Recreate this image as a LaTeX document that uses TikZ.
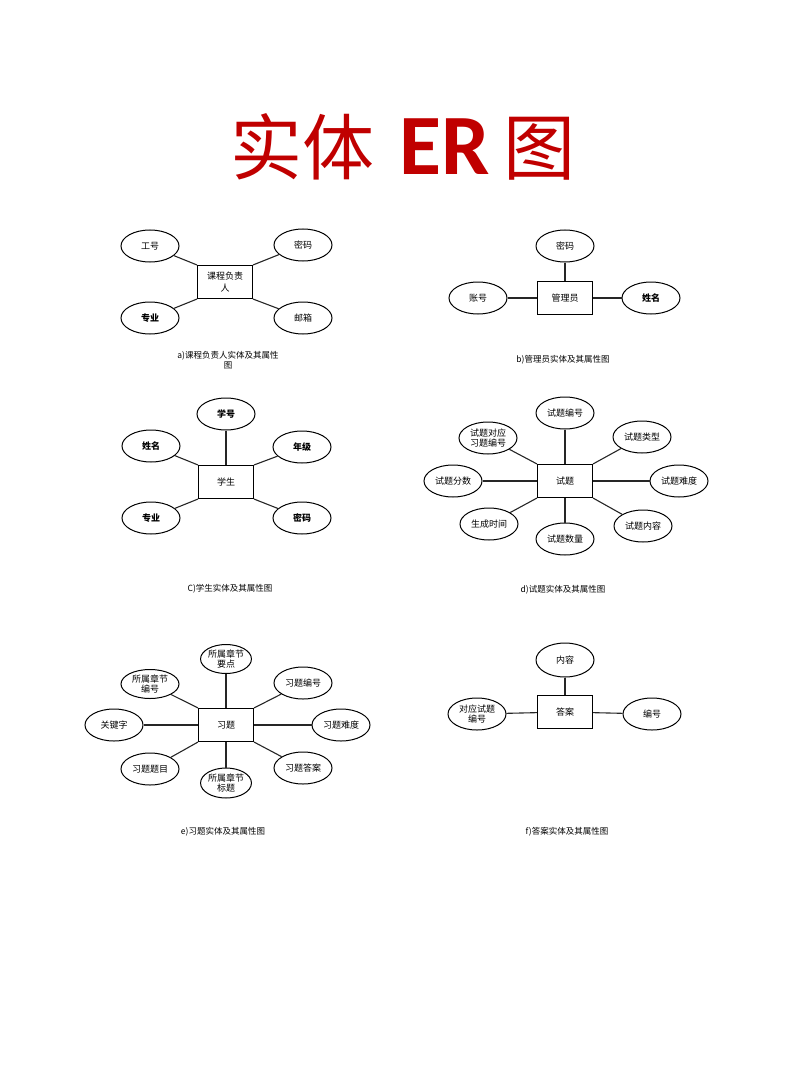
\documentclass[tikz,border=0pt]{standalone}
\usepackage{fontspec}
\newfontfamily\cjk{Noto Sans CJK SC}
\newfontfamily\titlelatin{Carlito}
\usetikzlibrary{shapes.geometric}
\definecolor{titlered}{RGB}{192,0,0}
\tikzset{
	attr/.style={draw, ellipse, line width=1pt, minimum width=58pt, minimum height=32pt,
		inner sep=0pt, align=center, font=\cjk\fontsize{9}{10}\selectfont},
	entity/.style={draw, rectangle, line width=1.1pt, minimum width=55pt, minimum height=33pt,
		inner sep=1pt, align=center, font=\cjk\fontsize{9}{12}\selectfont},
	caption/.style={align=center, font=\cjk\fontsize{8.5}{10}\selectfont},
	link/.style={line width=1.1pt, black!85},
}

\begin{document}
\begin{tikzpicture}[x=1pt, y=-1pt]
	\useasboundingbox (0,0) rectangle (800,1067);
	\node [anchor=base west, inner sep=0pt, text=titlered] (title) at (230,175)
		{\cjk\fontsize{72}{76}\selectfont 实体\hspace{25pt}{\titlelatin\bfseries\fontsize{86}{90}\selectfont ER}\hspace{14pt}图};

	% a) course leader
	\node [entity] (lead) at (225,282) {课程负责\\人};
	\node [attr] (gonghao) at (150,246) {工号};
	\node [attr] (mimaA) at (303,245) {密码};
	\node [attr, font=\cjk\bfseries\fontsize{9}{10}\selectfont] (zhuanyeA) at (150,318) {专业};
	\node [attr] (youxiang) at (303,318) {邮箱};
	\draw [link] (gonghao) to (lead.north west);
	\draw [link] (mimaA) to (lead.north east);
	\draw [link] (zhuanyeA) to (lead.south west);
	\draw [link] (youxiang) to (lead.south east);
	\node [caption] (capA) at (228,360) {a)课程负责人实体及其属性\\图};

	% b) administrator
	\node [entity] (admin) at (565,298) {管理员};
	\node [attr] (mimaB) at (565,246) {密码};
	\node [attr] (zhanghao) at (478,298) {账号};
	\node [attr, font=\cjk\bfseries\fontsize{9}{10}\selectfont] (xingmingB) at (651,298) {姓名};
	\draw [link] (mimaB) to (admin);
	\draw [link] (zhanghao) to (admin);
	\draw [link] (admin) to (xingmingB);
	\node [caption] (capB) at (563,360) {b)管理员实体及其属性图};

	% c) student
	\node [entity] (student) at (226,482) {学生};
	\node [attr, font=\cjk\bfseries\fontsize{9}{10}\selectfont] (xuehao) at (226,414) {学号};
	\node [attr, font=\cjk\bfseries\fontsize{9}{10}\selectfont] (xingmingC) at (151,446) {姓名};
	\node [attr, font=\cjk\bfseries\fontsize{9}{10}\selectfont] (nianji) at (302,447) {年级};
	\node [attr, font=\cjk\bfseries\fontsize{9}{10}\selectfont] (zhuanyeC) at (151,518) {专业};
	\node [attr, font=\cjk\bfseries\fontsize{9}{10}\selectfont] (mimaC) at (302,518) {密码};
	\draw [link] (xuehao) to (student);
	\draw [link] (xingmingC) to (student.north west);
	\draw [link] (nianji) to (student.north east);
	\draw [link] (zhuanyeC) to (student.south west);
	\draw [link] (mimaC) to (student.south east);
	\node [caption] (capC) at (230,589) {C)学生实体及其属性图};

	% d) test question
	\node [entity] (question) at (565,481) {试题};
	\node [attr] (qid) at (565,413) {试题编号};
	\node [attr] (qmap) at (488,438) {试题对应\\习题编号};
	\node [attr] (qtype) at (642,437) {试题类型};
	\node [attr] (qscore) at (453,481) {试题分数};
	\node [attr] (qdiff) at (679,481) {试题难度};
	\node [attr] (qtime) at (489,524) {生成时间};
	\node [attr] (qnum) at (565,539) {试题数量};
	\node [attr] (qcontent) at (643,526) {试题内容};
	\draw [link] (qid) to (question);
	\draw [link] (qmap) to (question.north west);
	\draw [link] (qtype) to (question.north east);
	\draw [link] (qscore) to (question);
	\draw [link] (question) to (qdiff);
	\draw [link] (qtime) to (question.south west);
	\draw [link] (qnum) to (question);
	\draw [link] (qcontent) to (question.south east);
	\node [caption] (capD) at (563,590) {d)试题实体及其属性图};

	% e) exercise
	\node [entity] (exercise) at (226,725) {习题};
	\node [attr, minimum width=50pt, minimum height=29pt] (epoint) at (226,659) {所属章节\\要点};
	\node [attr, minimum height=29pt] (echap) at (150,684) {所属章节\\编号};
	\node [attr] (eid) at (303,683) {习题编号};
	\node [attr] (ekey) at (114,725) {关键字};
	\node [attr] (ediff) at (341,725) {习题难度};
	\node [attr] (etitle) at (150,769) {习题题目};
	\node [attr, minimum width=50pt, minimum height=30pt] (ehead) at (226,783) {所属章节\\标题};
	\node [attr] (eans) at (303,768) {习题答案};
	\draw [link] (epoint) to (exercise);
	\draw [link] (echap) to (exercise.north west);
	\draw [link] (eid) to (exercise.north east);
	\draw [link] (ekey) to (exercise);
	\draw [link] (exercise) to (ediff);
	\draw [link] (etitle) to (exercise.south west);
	\draw [link] (ehead) to (exercise);
	\draw [link] (eans) to (exercise.south east);
	\node [caption] (capE) at (223,832) {e)习题实体及其属性图};

	% f) answer
	\node [entity] (answer) at (565,712) {答案};
	\node [attr, minimum height=34pt] (acontent) at (565,660) {内容};
	\node [attr] (aqid) at (477,714) {对应试题\\编号};
	\node [attr] (aid) at (652,714) {编号};
	\draw [link] (acontent) to (answer);
	\draw [link] (aqid) to (answer);
	\draw [link] (answer) to (aid);
	\node [caption] (capF) at (567,832) {f)答案实体及其属性图};
\end{tikzpicture}
\end{document}
